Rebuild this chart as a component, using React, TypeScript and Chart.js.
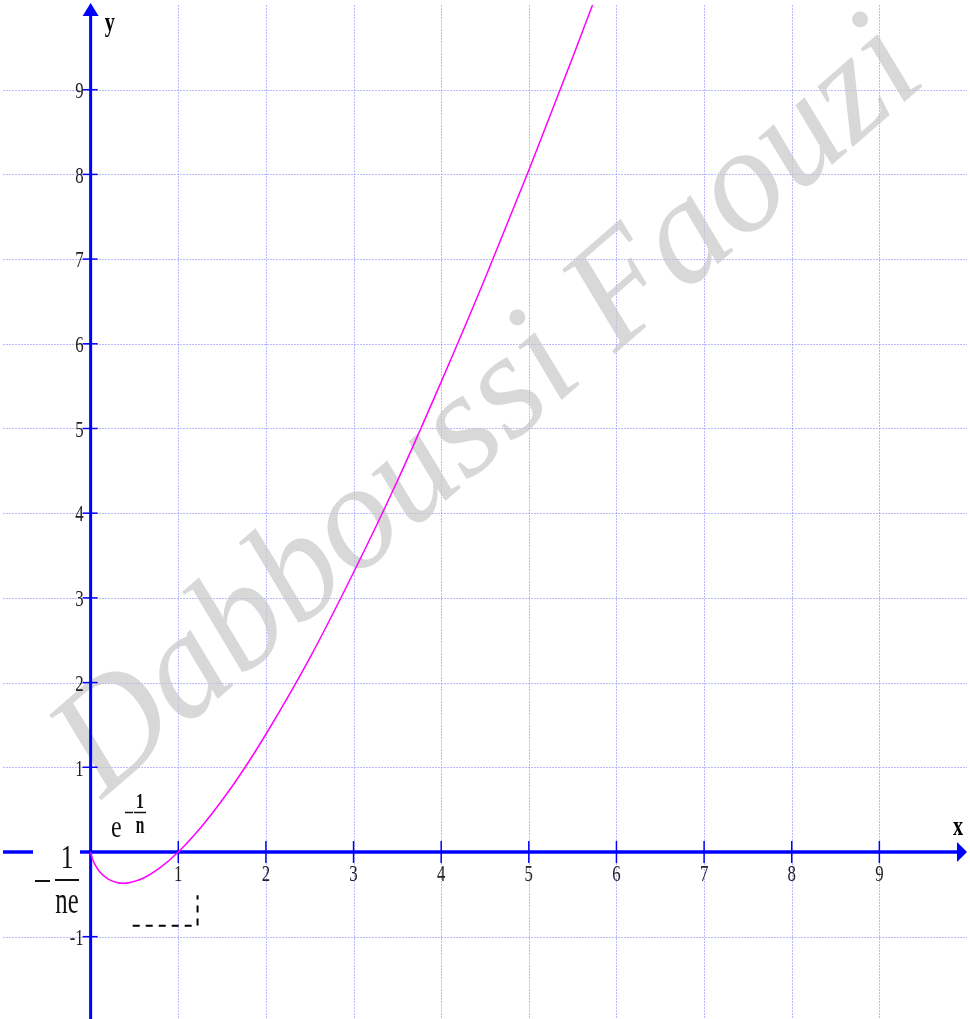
import React, { useEffect, useRef } from "react";
import { Chart, registerables } from "chart.js";

Chart.register(...registerables);

// curve values
const CURVE_X = [0, 0.02, 0.05, 0.1, 0.2, 0.3, 0.37, 0.45, 0.6, 0.8, 1, 1.25, 1.5, 1.75, 2, 2.5, 3, 3.5, 4, 4.5, 5, 5.5, 5.8];
const CURVE_Y = [0, -0.08, -0.15, -0.23, -0.32, -0.36, -0.37, -0.36, -0.31, -0.18, 0, 0.28, 0.61, 0.98, 1.39, 2.29, 3.3, 4.38, 5.55, 6.77, 8.05, 9.38, 10.2];

// dashed guide
const DASH_X = [0.48, 1.22, 1.22];
const DASH_Y = [-0.87, -0.87, -0.51];

// grid & ticks
const X_GRID = [1, 2, 3, 4, 5, 6, 7, 8, 9];
const Y_GRID = [-1, 1, 2, 3, 4, 5, 6, 7, 8, 9];
const X_TICK_LABELS = ["1", "2", "3", "4", "5", "6", "7", "8", "9"];
const Y_TICK_LABELS = ["-1", "1", "2", "3", "4", "5", "6", "7", "8", "9"];

const X_MIN = -1;
const X_MAX = 10;
const Y_MIN = -1.972;
const Y_MAX = 10;

const WATERMARK = "Dabboussi Faouzi";

const BLUE = "#0000ff";
const SERIF = "'Liberation Serif', 'DejaVu Serif', serif";

function txt(ctx: CanvasRenderingContext2D, s: string, x: number, y: number, font: string, align: CanvasTextAlign, baseline: CanvasTextBaseline, color: string, sx = 0.72) {
  ctx.save();
  ctx.translate(x, y);
  ctx.scale(sx, 1);
  ctx.font = font;
  ctx.textAlign = align;
  ctx.textBaseline = baseline;
  ctx.fillStyle = color;
  ctx.fillText(s, 0, 0);
  ctx.restore();
}

const decor = {
  id: "decor",
  beforeDatasetsDraw(chart: any) {
    const ctx: CanvasRenderingContext2D = chart.ctx;
    const xs = chart.scales.x;
    const ys = chart.scales.y;
    const area = chart.chartArea;
    const x0 = xs.getPixelForValue(0);
    const y0 = ys.getPixelForValue(0);
    ctx.save();
    // grid
    ctx.strokeStyle = "rgba(130,130,255,0.55)";
    ctx.lineWidth = 1;
    ctx.setLineDash([2, 1]);
    X_GRID.forEach((v) => {
      const p = Math.round(xs.getPixelForValue(v)) + 0.5;
      ctx.beginPath();
      ctx.moveTo(p, area.top);
      ctx.lineTo(p, chart.height);
      ctx.stroke();
    });
    Y_GRID.forEach((v) => {
      const p = Math.round(ys.getPixelForValue(v)) + 0.5;
      ctx.beginPath();
      ctx.moveTo(area.left, p);
      ctx.lineTo(area.right, p);
      ctx.stroke();
    });
    ctx.setLineDash([]);

    // watermark
    ctx.save();
    ctx.translate(490, 410);
    ctx.rotate(-41 * Math.PI / 180);
    ctx.font = `italic 150px ${SERIF}`;
    ctx.textAlign = "center";
    ctx.textBaseline = "middle";
    ctx.fillStyle = "rgba(200,200,200,0.7)";
    ctx.fillText(WATERMARK, 0, 0);
    ctx.restore();

    // axes
    ctx.strokeStyle = BLUE;
    ctx.fillStyle = BLUE;
    ctx.lineWidth = 3.5;
    ctx.beginPath();
    ctx.moveTo(area.left, y0);
    ctx.lineTo(area.right - 9, y0);
    ctx.stroke();
    ctx.beginPath();
    ctx.moveTo(area.right, y0);
    ctx.lineTo(area.right - 10, y0 - 10);
    ctx.lineTo(area.right - 10, y0 + 10);
    ctx.closePath();
    ctx.fill();

    ctx.lineWidth = 3;
    ctx.beginPath();
    ctx.moveTo(x0, chart.height);
    ctx.lineTo(x0, 14);
    ctx.stroke();
    ctx.beginPath();
    ctx.moveTo(x0, 3);
    ctx.lineTo(x0 - 8, 16);
    ctx.lineTo(x0 + 8, 16);
    ctx.closePath();
    ctx.fill();

    // ticks
    ctx.lineWidth = 1.5;
    X_GRID.forEach((v) => {
      const p = xs.getPixelForValue(v);
      ctx.beginPath();
      ctx.moveTo(p, y0 - 11);
      ctx.lineTo(p, y0 + 11);
      ctx.stroke();
    });
    Y_GRID.forEach((v) => {
      const p = ys.getPixelForValue(v);
      ctx.beginPath();
      ctx.moveTo(x0 - 8, p);
      ctx.lineTo(x0 + 7, p);
      ctx.stroke();
    });

    // tick labels
    X_GRID.forEach((v, i) => {
      txt(ctx, X_TICK_LABELS[i], xs.getPixelForValue(v), y0 + 11, `24px ${SERIF}`, "center", "top", "#222", 0.7);
    });
    Y_GRID.forEach((v, i) => {
      txt(ctx, Y_TICK_LABELS[i], x0 - 7, ys.getPixelForValue(v) + 2, `24px ${SERIF}`, "right", "middle", "#222", 0.7);
    });

    // axis names
    txt(ctx, "y", x0 + 14, 31, `bold 28px ${SERIF}`, "left", "alphabetic", "#000");
    txt(ctx, "x", area.right - 14, y0 - 17, `bold 28px ${SERIF}`, "left", "alphabetic", "#000");
    ctx.restore();
  },
  afterDatasetsDraw(chart: any) {
    const ctx: CanvasRenderingContext2D = chart.ctx;
    const ys = chart.scales.y;
    const y0 = ys.getPixelForValue(0);
    ctx.save();
    // e^{-1/n}
    txt(ctx, "e", 111, 837, `32px ${SERIF}`, "left", "alphabetic", "#111", 0.75);
    ctx.strokeStyle = "#111";
    ctx.lineWidth = 1.6;
    ctx.beginPath();
    ctx.moveTo(125, 812.5);
    ctx.lineTo(133, 812.5);
    ctx.moveTo(134, 812.5);
    ctx.lineTo(146, 812.5);
    ctx.stroke();
    txt(ctx, "1", 140, 808, `bold 22px ${SERIF}`, "center", "alphabetic", "#111");
    txt(ctx, "n", 140, 833, `bold 25px ${SERIF}`, "center", "alphabetic", "#111", 0.62);

    // -1/(ne)
    ctx.fillStyle = "#fff";
    ctx.fillRect(33, y0 - 4, 47, 8);
    ctx.strokeStyle = "#111";
    ctx.lineWidth = 2;
    ctx.beginPath();
    ctx.moveTo(35, 881);
    ctx.lineTo(50, 881);
    ctx.moveTo(55, 880);
    ctx.lineTo(79, 880);
    ctx.stroke();
    txt(ctx, "1", 67, 868, `34px ${SERIF}`, "center", "alphabetic", "#111", 0.75);
    txt(ctx, "ne", 67, 913, `38px ${SERIF}`, "center", "alphabetic", "#111", 0.65);
    ctx.restore();
  },
};

export default function App() {
  const ref = useRef<HTMLCanvasElement | null>(null);
  useEffect(() => {
    if (!ref.current) return;
    const chart = new Chart(ref.current, {
      type: "scatter",
      data: {
        datasets: [
          {
            data: CURVE_X.map((x, i) => ({ x, y: CURVE_Y[i] })),
            showLine: true,
            borderColor: "#ff00ff",
            borderWidth: 1.5,
            pointRadius: 0,
            cubicInterpolationMode: "monotone",
          },
          {
            data: DASH_X.map((x, i) => ({ x, y: DASH_Y[i] })),
            showLine: true,
            borderColor: "#000",
            borderWidth: 2,
            borderDash: [7, 6],
            pointRadius: 0,
          },
        ],
      },
      options: {
        responsive: false,
        animation: false,
        layout: { padding: { left: 3, right: 3, top: 5, bottom: 0 } },
        plugins: { legend: { display: false }, tooltip: { enabled: false } },
        scales: {
          x: { type: "linear", min: X_MIN, max: X_MAX, display: false },
          y: { type: "linear", min: Y_MIN, max: Y_MAX, display: false },
        },
      },
      plugins: [decor],
    });
    return () => chart.destroy();
  }, []);
  return (
    <div style={{ position: "absolute", left: 0, top: 0, width: 970, height: 1019, background: "#fff" }}>
      <canvas ref={ref} width={970} height={1019} style={{ display: "block" }} />
    </div>
  );
}
